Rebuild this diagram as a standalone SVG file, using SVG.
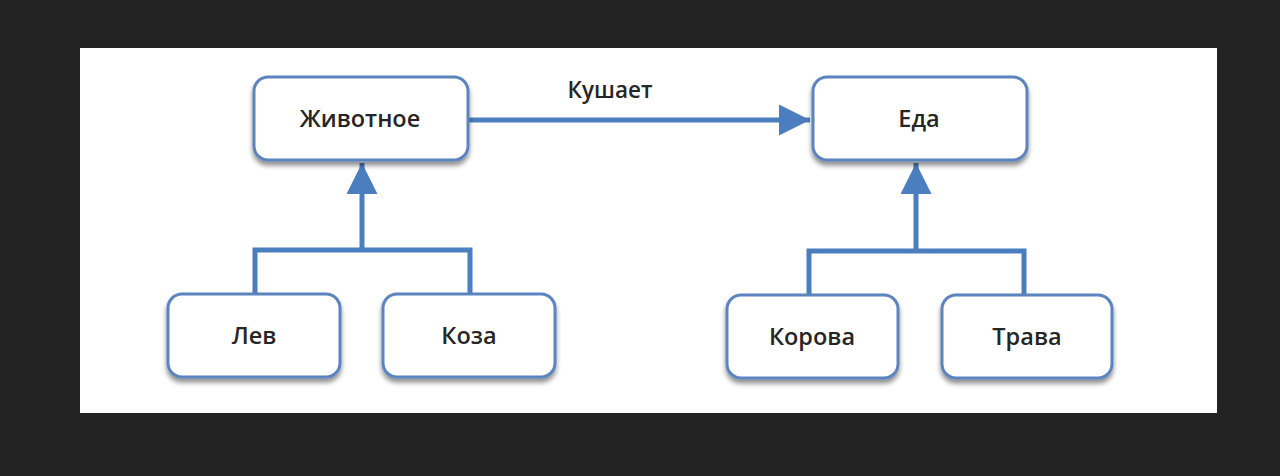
<svg xmlns="http://www.w3.org/2000/svg" width="1280" height="476" viewBox="0 0 1280 476">
<defs>
<style>
.node rect{fill:#fff;stroke:#5b84bf;stroke-width:3;filter:url(#sh)}
.node text{font-family:"Open Sans","Liberation Sans",Arial,sans-serif;font-weight:600;font-size:23.5px;fill:#262626;text-anchor:middle}
.conn{fill:none;stroke:#4a7ebf;stroke-width:5}
.lbl{font-family:"Open Sans","Liberation Sans",Arial,sans-serif;font-weight:600;font-size:22.5px;fill:#262626;text-anchor:middle}
</style>
<filter id="sh" x="-10%" y="-10%" width="120%" height="140%">
<feGaussianBlur in="SourceAlpha" stdDeviation="2.5"/>
<feOffset dx="0" dy="4" result="b"/>
<feComponentTransfer><feFuncA type="linear" slope="0.45"/></feComponentTransfer>
<feMerge><feMergeNode/><feMergeNode in="SourceGraphic"/></feMerge>
</filter>
<marker id="ah" viewBox="0 0 10 10" refX="10" refY="5" markerWidth="6.4" markerHeight="6.2" markerUnits="strokeWidth" orient="auto">
<path d="M0,0 L10,5 L0,10 Z" fill="#4a7ebf"/>
</marker>
</defs>
<rect x="0" y="0" width="1280" height="476" fill="#232323"/>
<rect x="80" y="48" width="1137" height="365" fill="#ffffff"/>
<g id="connectors">
<path class="conn" d="M468,120 L810,120" marker-end="url(#ah)"/>
<path class="conn" d="M255,293 L255,250 L470,250 L470,293 M362,250 L362,163" marker-end="url(#ah)"/>
<path class="conn" d="M809,295 L809,251 L1024,251 L1024,295 M916,251 L916,163" marker-end="url(#ah)"/>
<text class="lbl" x="610" y="98">Кушает</text>
</g>
<g id="animal" class="node"><rect x="254" y="77" width="214" height="83" rx="14"/><text x="360" y="127">Животное</text></g>
<g id="food" class="node"><rect x="813" y="77" width="214" height="83" rx="14"/><text x="919" y="127">Еда</text></g>
<g id="lion" class="node"><rect x="168" y="294" width="172" height="83" rx="14"/><text x="254" y="344">Лев</text></g>
<g id="goat" class="node"><rect x="383" y="294" width="172" height="83" rx="14"/><text x="469" y="344">Коза</text></g>
<g id="cow" class="node"><rect x="727" y="295" width="171" height="83" rx="14"/><text x="812" y="345">Корова</text></g>
<g id="grass" class="node"><rect x="942" y="295" width="170" height="83" rx="14"/><text x="1027" y="345">Трава</text></g>
</svg>
